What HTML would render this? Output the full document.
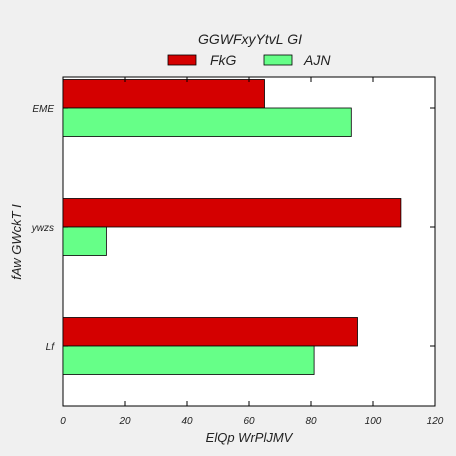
<!DOCTYPE html>
<html><head><meta charset="utf-8"><style>
body{margin:0;background:#f0f0f0}
svg{display:block;font-family:"Liberation Sans",sans-serif;font-style:italic}
</style></head><body>
<svg width="456" height="456">
<rect x="63" y="77" width="372" height="329" fill="#fff" stroke="#000" stroke-width="1"/>
<g id="bars"></g><g id="axes"></g>
<text x="250" y="44" text-anchor="middle" font-size="14" fill="#222">GGWFxyYtvL GI</text>
<rect x="168" y="55" width="28" height="10" fill="#d40000" stroke="#000" stroke-width="0.8"/>
<text x="210" y="65" font-size="14" fill="#222">FkG</text>
<rect x="264" y="55" width="28" height="10" fill="#66ff88" stroke="#000" stroke-width="0.8"/>
<text x="304" y="65" font-size="14" fill="#222">AJN</text>
<text x="249" y="442" text-anchor="middle" font-size="13" fill="#222">ElQp WrPlJMV</text>
<text transform="translate(21,242) rotate(-90)" text-anchor="middle" font-size="13" fill="#222">fAw GWckT I</text>
</svg>
<script>
const categories=["EME","ywzs","Lf"];
const fkgValues=[65,109,95];
const ajnValues=[93,14,81];
const xTicks=[0,20,40,60,80,100,120];
const NS="http://www.w3.org/2000/svg";
const x=v=>63+v*372/120;
const yc=i=>108+i*119;
const bars=document.getElementById('bars'),axes=document.getElementById('axes');
function mk(tag,a,p){const e=document.createElementNS(NS,tag);for(const k in a)e.setAttribute(k,a[k]);p.appendChild(e);return e;}
categories.forEach((c,i)=>{
 const r=mk('rect',{x:63,y:yc(i)-28.5,width:x(fkgValues[i])-63,height:28.5,fill:'#d40000',stroke:'#000','stroke-width':0.8},bars);
 
 
 const g=mk('rect',{x:63,y:yc(i),width:x(ajnValues[i])-63,height:28.5,fill:'#66ff88',stroke:'#000','stroke-width':0.8},bars);
 
 
 mk('line',{x1:63,x2:68,y1:yc(i),y2:yc(i),stroke:'#000'},axes);
 mk('line',{x1:430,x2:435,y1:yc(i),y2:yc(i),stroke:'#000'},axes);
 const t=mk('text',{x:54,y:yc(i)+4,'text-anchor':'end','font-size':10,fill:'#222'},axes);
 t.textContent=c;
 
 
});
xTicks.forEach(v=>{
 mk('line',{x1:x(v),x2:x(v),y1:406,y2:401,stroke:'#000'},axes);
 mk('line',{x1:x(v),x2:x(v),y1:77,y2:82,stroke:'#000'},axes);
 const t=mk('text',{x:x(v),y:424,'text-anchor':'middle','font-size':10,fill:'#222'},axes);
 t.textContent=v;
 
 
});
</script>
</body></html>
